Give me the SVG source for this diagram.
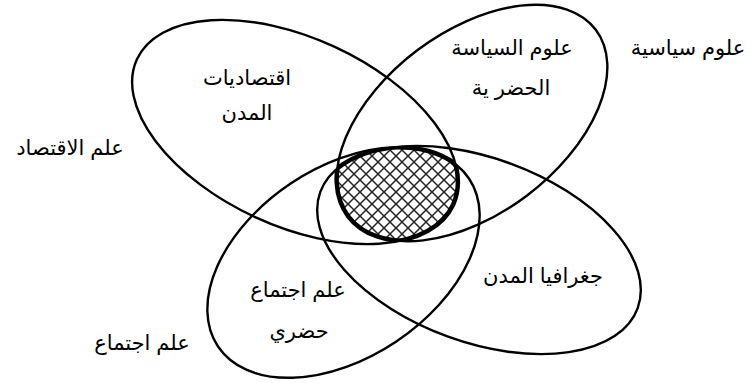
<svg xmlns="http://www.w3.org/2000/svg" width="750" height="383" viewBox="0 0 750 383">
<style>
.ell{fill:none;stroke:#000;stroke-width:2.4}
.edge{fill:none;stroke:#000;stroke-width:4.5}
.lbl{font-family:"Liberation Sans","DejaVu Sans",sans-serif;font-size:21px;fill:#000;text-anchor:middle}
</style>
<defs>
<pattern id="hatch" patternUnits="userSpaceOnUse" width="12" height="12">
<rect width="12" height="12" fill="#fff"/>
<path d="M-3,-3 L15,15 M15,-3 L-3,15" stroke="#222" stroke-width="1.5"/>
</pattern>
<ellipse id="eA" cx="0" cy="0" rx="174" ry="94" transform="translate(295,132) rotate(24.7)"/>
<ellipse id="eB" cx="0" cy="0" rx="155" ry="91" transform="translate(472,123) rotate(-37)"/>
<ellipse id="eC" cx="0" cy="0" rx="151" ry="95" transform="translate(343.5,262.5) rotate(-33.8)"/>
<ellipse id="eD" cx="0" cy="0" rx="169" ry="92" transform="translate(479,250) rotate(20.1)"/>
<clipPath id="cA"><use href="#eA"/></clipPath>
<clipPath id="cB"><use href="#eB"/></clipPath>
<clipPath id="cC"><use href="#eC"/></clipPath>
<clipPath id="cD"><use href="#eD"/></clipPath>
</defs>
<g id="core">
<g clip-path="url(#cA)"><g clip-path="url(#cB)"><g clip-path="url(#cC)"><g clip-path="url(#cD)">
<rect x="300" y="120" width="200" height="150" fill="url(#hatch)"/>
</g></g></g></g>
</g>
<g id="node-economics">
<use href="#eA" class="ell"/>
<text class="lbl" x="247" y="85">اقتصاديات</text>
<text class="lbl" x="247" y="120">المدن</text>
</g>
<g id="node-politics">
<use href="#eB" class="ell"/>
<text class="lbl" x="512" y="55">علوم السياسة</text>
<text class="lbl" x="511" y="95">الحضر ية</text>
</g>
<g id="node-sociology">
<use href="#eC" class="ell"/>
<text class="lbl" x="298" y="297">علم اجتماع</text>
<text class="lbl" x="299" y="338">حضري</text>
</g>
<g id="node-geography">
<use href="#eD" class="ell"/>
<text class="lbl" x="543" y="283">جغرافيا المدن</text>
</g>
<g id="core-outline">
<g clip-path="url(#cB)"><g clip-path="url(#cC)"><g clip-path="url(#cD)"><use href="#eA" class="edge"/></g></g></g>
<g clip-path="url(#cA)"><g clip-path="url(#cC)"><g clip-path="url(#cD)"><use href="#eB" class="edge"/></g></g></g>
<g clip-path="url(#cA)"><g clip-path="url(#cB)"><g clip-path="url(#cD)"><use href="#eC" class="edge"/></g></g></g>
<g clip-path="url(#cA)"><g clip-path="url(#cB)"><g clip-path="url(#cC)"><use href="#eD" class="edge"/></g></g></g>
</g>
<g id="outer-labels">
<text class="lbl" x="688" y="55">علوم سياسية</text>
<text class="lbl" x="70" y="155">علم الاقتصاد</text>
<text class="lbl" x="142" y="350">علم اجتماع</text>
</g>
</svg>
